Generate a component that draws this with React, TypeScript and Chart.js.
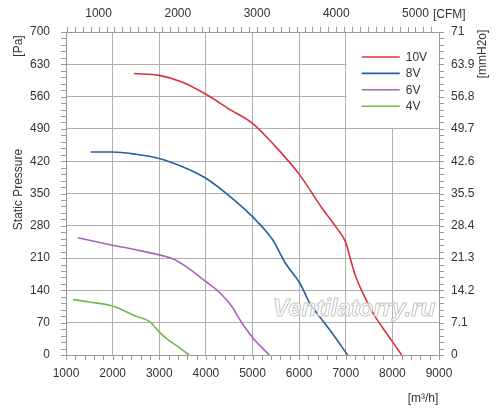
import { useEffect, useRef } from 'react';
import { Chart, registerables } from 'chart.js';

Chart.register(...registerables);

// ---- data ----
const seriesLabels = ['10V', '8V', '6V', '4V'];
const seriesColors = ['#d8333a', '#22609f', '#a665b9', '#72b84e'];

const flow10 = [2460, 3000, 3500, 4000, 4500, 5000, 5500, 6000, 6500, 6800, 7000, 7100, 7200, 7400, 7600, 7800, 8000, 8200];
const pres10 = [610, 606, 591, 565, 533, 502, 451, 392, 317, 276, 244, 208, 174, 127, 88, 58, 29, 0];

const flow8 = [1530, 2000, 2500, 3000, 3500, 4000, 4500, 5000, 5300, 5450, 5700, 6020, 6230, 6410, 6660, 7040];
const pres8 = [440, 440, 435, 426, 408, 383, 345, 300, 267, 247, 200, 155, 112, 87, 54, 0];

const flow6 = [1250, 2000, 2500, 3000, 3300, 3600, 4000, 4300, 4550, 4750, 5000, 5360];
const pres6 = [254, 238, 228, 217, 208, 190, 159, 135, 106, 73, 38, 0];

const flow4 = [1150, 1500, 2000, 2500, 2800, 3000, 3150, 3400, 3640];
const pres4 = [120, 115, 106, 84, 72, 50, 36, 18, 0];

const flowTicks = [1000, 2000, 3000, 4000, 5000, 6000, 7000, 8000, 9000];
const paTicks = [0, 70, 140, 210, 280, 350, 420, 490, 560, 630, 700];
const mmH2oLabels = ['0', '7.1', '14.2', '21.3', '28.4', '35.5', '42.6', '49.7', '56.8', '63.9', '71'];
const cfmTicks = [1000, 2000, 3000, 4000, 5000];

const M3H_PER_CFM = 1.699;
const FONT = '"Liberation Sans", Arial, sans-serif';
const TEXT = '#333333';
const GRID = '#b0b0b0';
const AXIS = '#9a9a9a';

const allFlows = [flow10, flow8, flow6, flow4];
const allPres = [pres10, pres8, pres6, pres4];

const decorPlugin = {
  id: 'decor',
  afterDraw(chart: any) {
    const ctx = chart.ctx as CanvasRenderingContext2D;
    const ca = chart.chartArea;
    const sx = chart.scales.x;
    const sy = chart.scales.y;
    const st = chart.scales.xTop;
    ctx.save();

    // watermark
    ctx.font = `italic bold 24px ${FONT}`;
    ctx.textAlign = 'center';
    ctx.textBaseline = 'middle';
    ctx.lineWidth = 1;
    ctx.fillStyle = 'rgba(255,255,255,0.7)';
    ctx.strokeStyle = '#c8c8c8';
    const wx = sx.getPixelForValue(7180);
    const wy = sy.getPixelForValue(98);
    ctx.fillText('Ventilatorry.ru', wx, wy);
    ctx.strokeText('Ventilatorry.ru', wx, wy);

    // tick marks
    ctx.strokeStyle = AXIS;
    ctx.lineWidth = 1;
    ctx.beginPath();
    for (let v = 1000; v <= 9000; v += 200) {
      const px = Math.round(sx.getPixelForValue(v)) + 0.5;
      ctx.moveTo(px, ca.bottom);
      ctx.lineTo(px, ca.bottom + 5);
    }
    for (let v = 0; v <= 700; v += 14) {
      const py = Math.round(sy.getPixelForValue(v)) + 0.5;
      ctx.moveTo(ca.left - 5, py);
      ctx.lineTo(ca.left, py);
      ctx.moveTo(ca.right, py);
      ctx.lineTo(ca.right + 5, py);
    }
    for (let v = 600; v <= 5200; v += 100) {
      const px = Math.round(st.getPixelForValue(v)) + 0.5;
      ctx.moveTo(px, ca.top - 5);
      ctx.lineTo(px, ca.top);
    }
    ctx.stroke();

    // legend box
    const lx0 = sx.getPixelForValue(7000);
    const lx1 = sx.getPixelForValue(9000);
    const ly0 = sy.getPixelForValue(700);
    const ly1 = sy.getPixelForValue(490);
    ctx.fillStyle = '#ffffff';
    ctx.fillRect(lx0 + 1, ly0 + 1, lx1 - lx0 - 2, ly1 - ly0 - 2);
    ctx.font = `12px ${FONT}`;
    ctx.textAlign = 'left';
    ctx.textBaseline = 'middle';
    chart.data.datasets.forEach((ds: any, i: number) => {
      const y = ly0 + 25 + i * 16.4;
      ctx.strokeStyle = ds.borderColor;
      ctx.lineWidth = 1.6;
      ctx.beginPath();
      ctx.moveTo(lx0 + 16, y);
      ctx.lineTo(lx0 + 54, y);
      ctx.stroke();
      ctx.fillStyle = TEXT;
      ctx.fillText(ds.label, lx0 + 60, y + 0.5);
    });

    // axis unit labels
    ctx.fillStyle = TEXT;
    ctx.font = `12px ${FONT}`;
    const rot = (t: string, x: number, y: number) => {
      ctx.save();
      ctx.translate(x, y);
      ctx.rotate(-Math.PI / 2);
      ctx.textAlign = 'center';
      ctx.textBaseline = 'middle';
      ctx.fillText(t, 0, 0);
      ctx.restore();
    };
    rot('[Pa]', ca.left - 47, ca.top + 14);
    rot('Static Pressure', ca.left - 47, (ca.top + ca.bottom) / 2 - 4);
    rot('[mmH2o]', ca.right + 44, ca.top + 22);
    ctx.textAlign = 'left';
    ctx.textBaseline = 'middle';
    ctx.fillText('[CFM]', ca.right - 6, ca.top - 17);
    ctx.textAlign = 'center';
    ctx.fillText('[m³/h]', ca.right - 16, ca.bottom + 44);
    ctx.restore();
  },
};

export default function App() {
  const ref = useRef<HTMLCanvasElement>(null);
  useEffect(() => {
    document.body.style.margin = '0';
    const chart = new Chart(ref.current!, {
      type: 'line',
      data: {
        datasets: seriesLabels.map((label, i) => ({
          label,
          data: allFlows[i].map((x, j) => ({ x, y: allPres[i][j] })),
          borderColor: seriesColors[i],
          backgroundColor: seriesColors[i],
          borderWidth: 1.6,
          pointRadius: 0,
          cubicInterpolationMode: 'monotone' as const,
          fill: false,
        })),
      },
      options: {
        animation: false,
        responsive: true,
        maintainAspectRatio: false,
        layout: { padding: 0 },
        plugins: { legend: { display: false }, tooltip: { enabled: false } },
        scales: {
          x: {
            type: 'linear',
            position: 'bottom',
            min: 1000,
            max: 9000,
            afterBuildTicks: (s: any) => { s.ticks = flowTicks.map((value) => ({ value })); },
            afterFit: (s: any) => { s.height = 65; },
            grid: { color: GRID, drawTicks: false },
            border: { color: AXIS },
            ticks: { padding: 11, color: TEXT, font: { family: FONT, size: 12 }, callback: (v: any) => String(v), maxRotation: 0, autoSkip: false },
          },
          xTop: {
            type: 'linear',
            axis: 'x',
            position: 'top',
            min: 1000 / M3H_PER_CFM,
            max: 9000 / M3H_PER_CFM,
            afterBuildTicks: (s: any) => { s.ticks = cfmTicks.map((value) => ({ value })); },
            afterFit: (s: any) => { s.height = 32; },
            grid: { drawOnChartArea: false, drawTicks: false },
            border: { color: AXIS },
            ticks: { padding: 11, color: TEXT, font: { family: FONT, size: 12 }, callback: (v: any) => String(v), maxRotation: 0, autoSkip: false },
          },
          y: {
            type: 'linear',
            position: 'left',
            min: 0,
            max: 700,
            afterBuildTicks: (s: any) => { s.ticks = paTicks.map((value) => ({ value })); },
            afterFit: (s: any) => { s.width = 66; },
            grid: { color: GRID, drawTicks: false },
            border: { color: AXIS },
            ticks: { padding: 16, color: TEXT, font: { family: FONT, size: 12 }, callback: (v: any) => String(v), autoSkip: false },
          },
          yRight: {
            type: 'linear',
            axis: 'y',
            position: 'right',
            min: 0,
            max: 700,
            afterBuildTicks: (s: any) => { s.ticks = paTicks.map((value) => ({ value })); },
            afterFit: (s: any) => { s.width = 61; },
            grid: { drawOnChartArea: false, drawTicks: false },
            border: { color: AXIS },
            ticks: {
              padding: 12,
              color: TEXT,
              font: { family: FONT, size: 12 },
              autoSkip: false,
              callback: (v: any) => mmH2oLabels[paTicks.indexOf(Number(v))] ?? '',
            },
          },
        },
      } as any,
      plugins: [decorPlugin],
    });
    return () => chart.destroy();
  }, []);
  return (
    <div style={{ position: 'relative', width: 500, height: 420 }}>
      <canvas ref={ref} />
    </div>
  );
}
